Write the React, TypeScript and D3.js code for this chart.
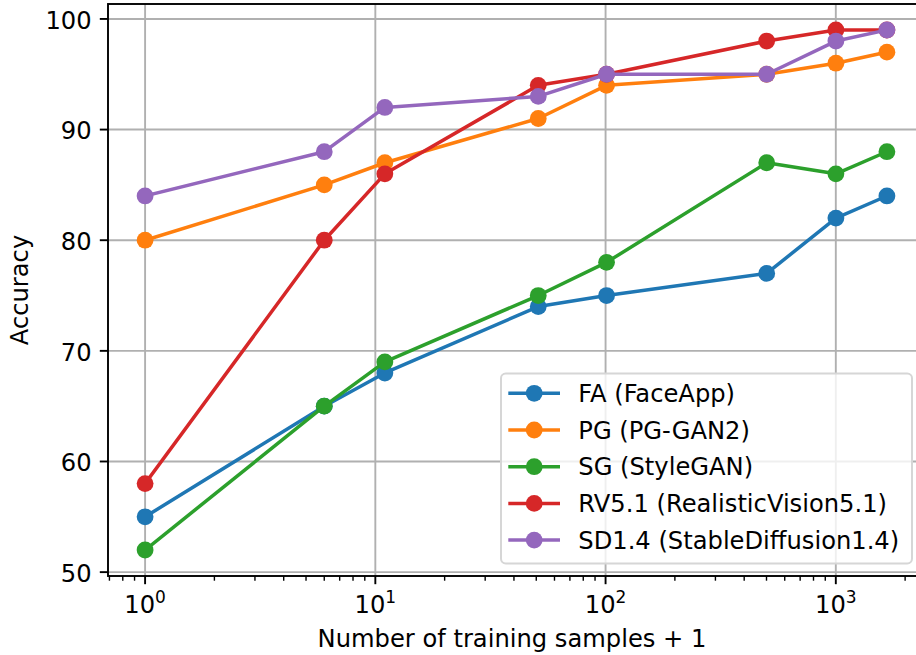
import React, { useEffect, useRef } from "react";
import * as d3 from "d3";

// training samples + 1 (log x axis)
const samples = [1, 6, 11, 51, 101, 501, 1001, 1667];

const seriesNames = [
  "FA (FaceApp)",
  "PG (PG-GAN2)",
  "SG (StyleGAN)",
  "RV5.1 (RealisticVision5.1)",
  "SD1.4 (StableDiffusion1.4)",
];
const seriesColors = ["#1f77b4", "#ff7f0e", "#2ca02c", "#d62728", "#9467bd"];

const faAcc = [55, 65, 68, 74, 75, 77, 82, 84];
const pgAcc = [80, 85, 87, 91, 94, 95, 96, 97];
const sgAcc = [52, 65, 69, 75, 78, 87, 86, 88];
const rvAcc = [58, 80, 86, 94, 95, 98, 99, 99];
const sdAcc = [84, 88, 92, 93, 95, 95, 98, 99];

const seriesValues = [faAcc, pgAcc, sgAcc, rvAcc, sdAcc];

const yTicks = [50, 60, 70, 80, 90, 100];
const xTicks = [1, 10, 100, 1000];

const W = 916;
const H = 655;
const FONT = "DejaVu Sans, sans-serif";
const FS = 24.2;

export default function App() {
  const ref = useRef<SVGSVGElement>(null);

  useEffect(() => {
    const svg = d3.select(ref.current);
    svg.selectAll("*").remove();

    const left = 108, right = 924, top = 4, bottom = 576;

    // matplotlib style 5% margins
    const lx0 = Math.log10(d3.min(samples)!);
    const lx1 = Math.log10(d3.max(samples)!);
    const lpad = (lx1 - lx0) * 0.05;
    const x = d3.scaleLog()
      .domain([Math.pow(10, lx0 - lpad), Math.pow(10, lx1 + lpad)])
      .range([left, right]);

    const allY = seriesValues.flat();
    const y0 = d3.min(allY)!, y1 = d3.max(allY)!;
    const ypad = (y1 - y0) * 0.05;
    const y = d3.scaleLinear().domain([y0 - ypad, y1 + ypad]).range([bottom, top]);

    svg.append("rect").attr("width", W).attr("height", H).attr("fill", "white");

    // grid
    const grid = svg.append("g").attr("stroke", "#b0b0b0").attr("stroke-width", 1.9);
    xTicks.forEach(t => {
      grid.append("line").attr("x1", x(t)).attr("x2", x(t)).attr("y1", top).attr("y2", bottom);
    });
    yTicks.forEach(t => {
      grid.append("line").attr("x1", left).attr("x2", right).attr("y1", y(t)).attr("y2", y(t));
    });

    // series
    const line = d3.line<number>()
      .x((_, i) => x(samples[i]))
      .y(d => y(d));

    seriesValues.forEach((vals, s) => {
      const g = svg.append("g");
      g.append("path")
        .attr("d", line(vals))
        .attr("fill", "none")
        .attr("stroke", seriesColors[s])
        .attr("stroke-width", 3.5)
        .attr("stroke-linejoin", "round")
        .attr("stroke-linecap", "square");
      g.selectAll("circle")
        .data(vals)
        .enter()
        .append("circle")
        .attr("cx", (_, i) => x(samples[i]))
        .attr("cy", d => y(d))
        .attr("r", 8.4)
        .attr("fill", seriesColors[s]);
    });

    // spines
    const sp = svg.append("g").attr("stroke", "black").attr("stroke-width", 1.9).attr("fill", "none");
    sp.append("rect").attr("x", left).attr("y", top).attr("width", right - left).attr("height", bottom - top);

    // y ticks
    const ya = svg.append("g");
    yTicks.forEach(t => {
      ya.append("line")
        .attr("x1", left - 8.2).attr("x2", left)
        .attr("y1", y(t)).attr("y2", y(t))
        .attr("stroke", "black").attr("stroke-width", 1.9);
      ya.append("text")
        .attr("x", left - 16.4)
        .attr("y", y(t) + 9.8)
        .attr("text-anchor", "end")
        .attr("font-family", FONT)
        .attr("font-size", FS)
        .text(t);
    });

    // x ticks (major + minor)
    const xa = svg.append("g");
    const [d0, d1] = x.domain();
    for (let e = Math.floor(Math.log10(d0)); e <= Math.ceil(Math.log10(d1)); e++) {
      for (let m = 2; m <= 9; m++) {
        const v = m * Math.pow(10, e);
        if (v < d0 || v > d1) continue;
        xa.append("line")
          .attr("x1", x(v)).attr("x2", x(v))
          .attr("y1", bottom).attr("y2", bottom + 4.7)
          .attr("stroke", "black").attr("stroke-width", 1.4);
      }
    }
    xTicks.forEach(t => {
      xa.append("line")
        .attr("x1", x(t)).attr("x2", x(t))
        .attr("y1", bottom).attr("y2", bottom + 8.2)
        .attr("stroke", "black").attr("stroke-width", 1.9);
      const txt = xa.append("text")
        .attr("x", x(t))
        .attr("y", 613)
        .attr("text-anchor", "middle")
        .attr("font-family", FONT)
        .attr("font-size", FS);
      txt.append("tspan").text("10");
      txt.append("tspan")
        .attr("dy", -9.6)
        .attr("font-size", 17)
        .text(String(Math.round(Math.log10(t))));
    });

    // axis labels
    svg.append("text")
      .attr("x", (left + right) / 2 - 4)
      .attr("y", 647)
      .attr("text-anchor", "middle")
      .attr("font-family", FONT)
      .attr("font-size", FS)
      .text("Number of training samples + 1");

    svg.append("text")
      .attr("transform", `translate(28,${(top + bottom) / 2}) rotate(-90)`)
      .attr("text-anchor", "middle")
      .attr("font-family", FONT)
      .attr("font-size", FS)
      .text("Accuracy");

    // legend
    const lg = svg.append("g");
    lg.append("rect")
      .attr("x", 501).attr("y", 373.5)
      .attr("width", 411).attr("height", 190)
      .attr("rx", 4.7)
      .attr("fill", "white").attr("fill-opacity", 0.8)
      .attr("stroke", "#d6d6d6").attr("stroke-width", 2);
    seriesNames.forEach((name, i) => {
      const cy = 393.3 + i * 36.7;
      lg.append("line")
        .attr("x1", 508.3).attr("x2", 560)
        .attr("y1", cy).attr("y2", cy)
        .attr("stroke", seriesColors[i]).attr("stroke-width", 3.5);
      lg.append("circle")
        .attr("cx", 534.2).attr("cy", cy).attr("r", 8.4)
        .attr("fill", seriesColors[i]);
      lg.append("text")
        .attr("x", 578.3).attr("y", cy + 8.6)
        .attr("font-family", FONT)
        .attr("font-size", FS)
        .text(name);
    });

    return () => {};
  }, []);

  return (
    <svg
      ref={ref}
      width={W}
      height={H}
      style={{ position: "absolute", left: 0, top: 0 }}
    />
  );
}
